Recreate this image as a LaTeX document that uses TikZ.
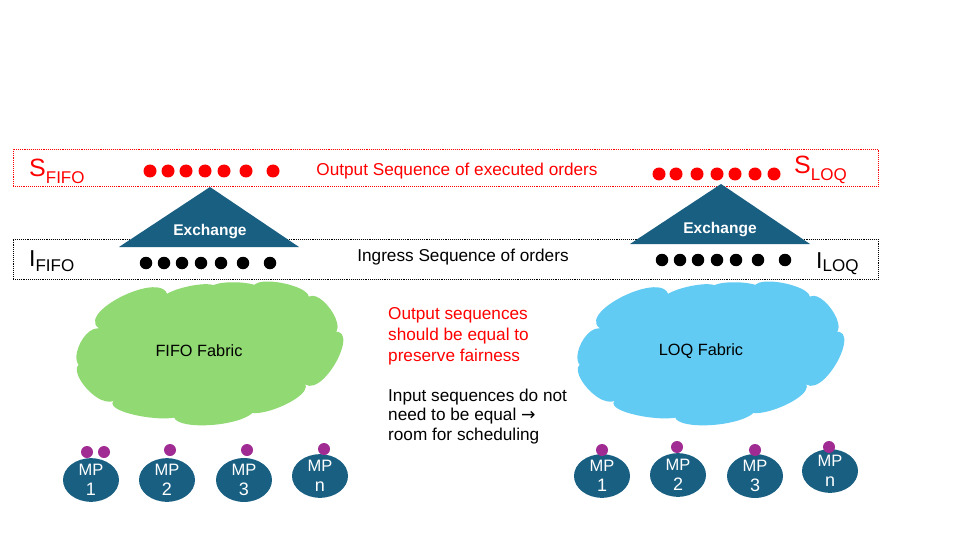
\documentclass[tikz,border=0pt]{standalone}
\usepackage{fontspec}
\setmainfont{Liberation Sans}
\newfontfamily\symfont{DejaVu Sans}
\usetikzlibrary{shapes.geometric}
\definecolor{teal}{RGB}{24,95,130}
\definecolor{cgreen}{RGB}{145,217,115}
\definecolor{cblue}{RGB}{97,203,243}
\definecolor{purp}{RGB}{160,43,147}
\newcommand{\drawfabric}[2]{%
  \fill[#1,shift={#2}] (93,364.5)
    .. controls (59.15,380.08) and (83.85,313.58) .. (105.9,331.3)
    .. controls (58.98,317.95) and (178.68,259.05) .. (166.9,303.6)
    .. controls (140.5,292.65) and (235.5,271.75) .. (212.7,294)
    .. controls (192.55,276.4) and (281.85,280.2) .. (256.3,294.7)
    .. controls (234.8,268.2) and (329.8,287.2) .. (304.7,302.9)
    .. controls (313.65,275.15) and (357.35,337.85) .. (327.1,334)
    .. controls (368.7,315.95) and (319.3,409.05) .. (301.2,380.3)
    .. controls (328.6,394.55) and (226,434.45) .. (249,398.5)
    .. controls (285.9,425.85) and (141.5,439.15) .. (180,404.8)
    .. controls (205.8,431.8) and (84.2,412.8) .. (118.4,397.4)
    .. controls (100.7,419.05) and (51.3,352.55) .. (93,364.5) -- cycle;}
\begin{document}
\begin{tikzpicture}[x=1pt,y=-1pt,
  reddot/.style={circle,fill=red,inner sep=0,minimum size=13},
  blackdot/.style={circle,fill=black,inner sep=0,minimum size=12.5},
  purpdot/.style={circle,fill=purp,inner sep=0,minimum size=12},
  mp/.style={ellipse,fill=teal,text=white,minimum width=56,minimum height=37,inner sep=0,align=center,font=\fontsize{16.5}{19.5}\selectfont},
  seqbox/.style={densely dotted,line width=0.9,minimum width=865,minimum height=37,inner sep=0},
  lbl/.style={inner sep=0,anchor=base west},
  exch/.style={fill=teal},
  exchtxt/.style={text=white,font=\fontsize{15.5}{15.5}\selectfont\bfseries,inner sep=0}
]
\useasboundingbox (0,0) rectangle (960,540);
\fill[white] (0,0) rectangle (960,540);

% sequence boxes
\node[seqbox,draw=red] (sbox) at (445.5,167.5) {};
\node[seqbox,draw=black,minimum height=40] (ibox) at (445.5,259) {};

% triangles
\coordinate (fa) at (210,187); \coordinate (fl) at (119,247); \coordinate (fr) at (299,247);
\coordinate (la) at (721,184); \coordinate (ll) at (630,244); \coordinate (lr) at (810,244);
\fill[exch] (fl) -- (fa) -- (fr) -- cycle;
\fill[exch] (ll) -- (la) -- (lr) -- cycle;
\node[exchtxt] (fex) at (210,232) {Exchange};
\node[exchtxt] (lex) at (720,230) {Exchange};

% labels S and I
\node[lbl,text=red] (sfifo) at (29,177) {{\fontsize{25}{25}\selectfont S}\raisebox{-6pt}{\fontsize{17}{17}\selectfont FIFO}};
\node[lbl,text=red] (sloq) at (794,174) {{\fontsize{25}{25}\selectfont S}\raisebox{-7pt}{\fontsize{17}{17}\selectfont LOQ}};
\node[lbl] (ififo) at (29,266) {{\fontsize{23}{23}\selectfont I}\raisebox{-5pt}{\fontsize{17}{17}\selectfont FIFO}};
\node[lbl] (iloq) at (816,268) {{\fontsize{23}{23}\selectfont I}\raisebox{-3pt}{\fontsize{17}{17}\selectfont LOQ}};

\node[text=red,font=\fontsize{17.2}{17.2}\selectfont,inner sep=0] (outseq) at (457,171) {Output Sequence of executed orders};
\node[font=\fontsize{17.2}{17.2}\selectfont,inner sep=0] (ingseq) at (463,257) {Ingress Sequence of orders};

% dots
\foreach \x [count=\i] in {150,168,186,205,224,246,273}
  \node[reddot] (rf\i) at (\x,171) {};
\foreach \x [count=\i] in {146,164,182,201,221,243,270}
  \node[blackdot] (bf\i) at (\x,263) {};
\foreach \x [count=\i] in {659,676,697,717,735,755,774}
  \node[reddot] (rl\i) at (\x,174) {};
\foreach \x [count=\i] in {662,680,698,717,736,758,785}
  \node[blackdot] (bl\i) at (\x,260) {};

% clouds
\drawfabric{cgreen}{(0,0)}
\drawfabric{cblue}{(501,0)}
\node[font=\fontsize{16.3}{16.3}\selectfont,inner sep=0] (fifotxt) at (199,351) {FIFO Fabric};
\node[font=\fontsize{16.3}{16.3}\selectfont,inner sep=0] (loqtxt) at (701,351) {LOQ Fabric};

% middle text
\begin{scope}[every node/.style={lbl,font=\fontsize{17.2}{17.2}\selectfont}]
\node[text=red] (t1) at (388,319) {Output sequences};
\node[text=red] (t2) at (388,340) {should be equal to};
\node[text=red] (t3) at (388,361) {preserve fairness};
\node (t4) at (388,401) {Input sequences do not};
\node (t5) at (388,420) {need to be equal {\symfont →}};
\node (t6) at (388,440) {room for scheduling};
\end{scope}

% MPs FIFO
\node[mp] (fmp1) at (91,480) {MP\\{\fontsize{18}{18}\selectfont 1}};
\node[mp] (fmp2) at (167,480) {MP\\{\fontsize{18}{18}\selectfont 2}};
\node[mp] (fmp3) at (244,480) {MP\\{\fontsize{18}{18}\selectfont 3}};
\node[mp] (fmpn) at (320,476) {MP\\{\fontsize{18}{18}\selectfont n}};
\node[purpdot] (fp1a) at (87,452) {};
\node[purpdot] (fp1b) at (104,452) {};
\node[purpdot] (fp2) at (170,450) {};
\node[purpdot] (fp3) at (247,450) {};
\node[purpdot] (fpn) at (324,449) {};

% MPs LOQ
\node[mp] (lmp1) at (602,476) {MP\\{\fontsize{18}{18}\selectfont 1}};
\node[mp] (lmp2) at (678,475) {MP\\{\fontsize{18}{18}\selectfont 2}};
\node[mp] (lmp3) at (755,476) {MP\\{\fontsize{18}{18}\selectfont 3}};
\node[mp] (lmpn) at (830,471) {MP\\{\fontsize{18}{18}\selectfont n}};
\node[purpdot] (lp1) at (602,450) {};
\node[purpdot] (lp2) at (677,447) {};
\node[purpdot] (lp3) at (755,450) {};
\node[purpdot] (lpn) at (829,447) {};
\end{tikzpicture}
\end{document}
